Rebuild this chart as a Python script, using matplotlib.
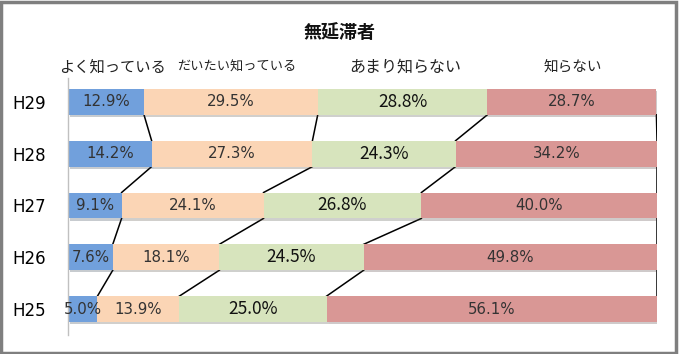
import matplotlib
matplotlib.use('Agg')
import matplotlib.pyplot as plt
import matplotlib.patheffects as pe
from matplotlib.patches import Rectangle

years = ["H29", "H28", "H27", "H26", "H25"]
series_names = ["よく知っている", "だいたい知っている", "あまり知らない", "知らない"]
know_well = [12.9, 14.2, 9.1, 7.6, 5.0]
know_somewhat = [29.5, 27.3, 24.1, 18.1, 13.9]
know_little = [28.8, 24.3, 26.8, 24.5, 25.0]
not_know = [28.7, 34.2, 40.0, 49.8, 56.1]

series = [know_well, know_somewhat, know_little, not_know]
colors = ["#71a0dc", "#fbd5b5", "#d7e4bd", "#d99795"]
jp = ["Noto Sans CJK JP", "DejaVu Sans"]

fig = plt.figure(figsize=(6.79, 3.54), dpi=100)
ax = fig.add_axes([68 / 679, 19 / 354, 589 / 679, 257 / 354])

bar_h = 0.5
ypos = list(range(len(years)))
left = [0.0] * len(years)
ends = []
for k, vals in enumerate(series):
    bars = ax.barh(ypos, vals, left=left, height=bar_h, color=colors[k],
                   edgecolor="none", zorder=2)
    for b in bars:
        b.set_path_effects([pe.SimplePatchShadow(offset=(1.5, -1.5), alpha=0.25),
                            pe.Normal()])
    for i, v in enumerate(vals):
        cx = left[i] + v / 2
        if k == 2:
            ax.text(cx, ypos[i], f"{v:.1f}%", ha="center", va="center",
                    fontsize=12.5, family=jp, color="#111111", zorder=4)
        else:
            ax.text(cx, ypos[i], f"{v:.1f}%", ha="center", va="center",
                    fontsize=10.8, family="DejaVu Sans", color="#333333", zorder=4)
    left = [l + v for l, v in zip(left, vals)]
    ends.append(list(left))

# series lines between consecutive bars
for cum in ends:
    for i in range(len(years) - 1):
        ax.plot([cum[i], cum[i + 1]], [ypos[i] + bar_h / 2, ypos[i + 1] - bar_h / 2],
                color="black", lw=1.1, zorder=1)

ax.set_xlim(0, 100)
ax.set_ylim(4.5, -0.46)
ax.set_yticks(ypos)
ax.set_yticklabels(years, fontsize=12, family="DejaVu Sans")
ax.tick_params(axis="y", length=0, pad=16)
ax.set_xticks([])
for s in ["top", "right", "bottom"]:
    ax.spines[s].set_visible(False)
ax.spines["left"].set_color("#c0c0c0")
ax.spines["left"].set_linewidth(1)

# headers and title
header_x = [112, 237, 405, 573]
header_sz = [11, 9.5, 11.5, 10.5]
for name, x, sz in zip(series_names, header_x, header_sz):
    fig.text(x / 679, 1 - 67 / 354, name, ha="center", va="center",
             fontsize=sz, family=jp, color="#222222")
fig.text(340 / 679, 1 - 33 / 354, "無延滞者", ha="center", va="center",
         fontsize=13, family=jp, fontweight="bold", color="#111111")

fig.patches.append(Rectangle((0.002, 0.004), 0.994, 0.99, transform=fig.transFigure,
                             fill=False, edgecolor="#7f7f7f", lw=2.5))

fig.savefig("out.png", dpi=100)
plt.close(fig)
